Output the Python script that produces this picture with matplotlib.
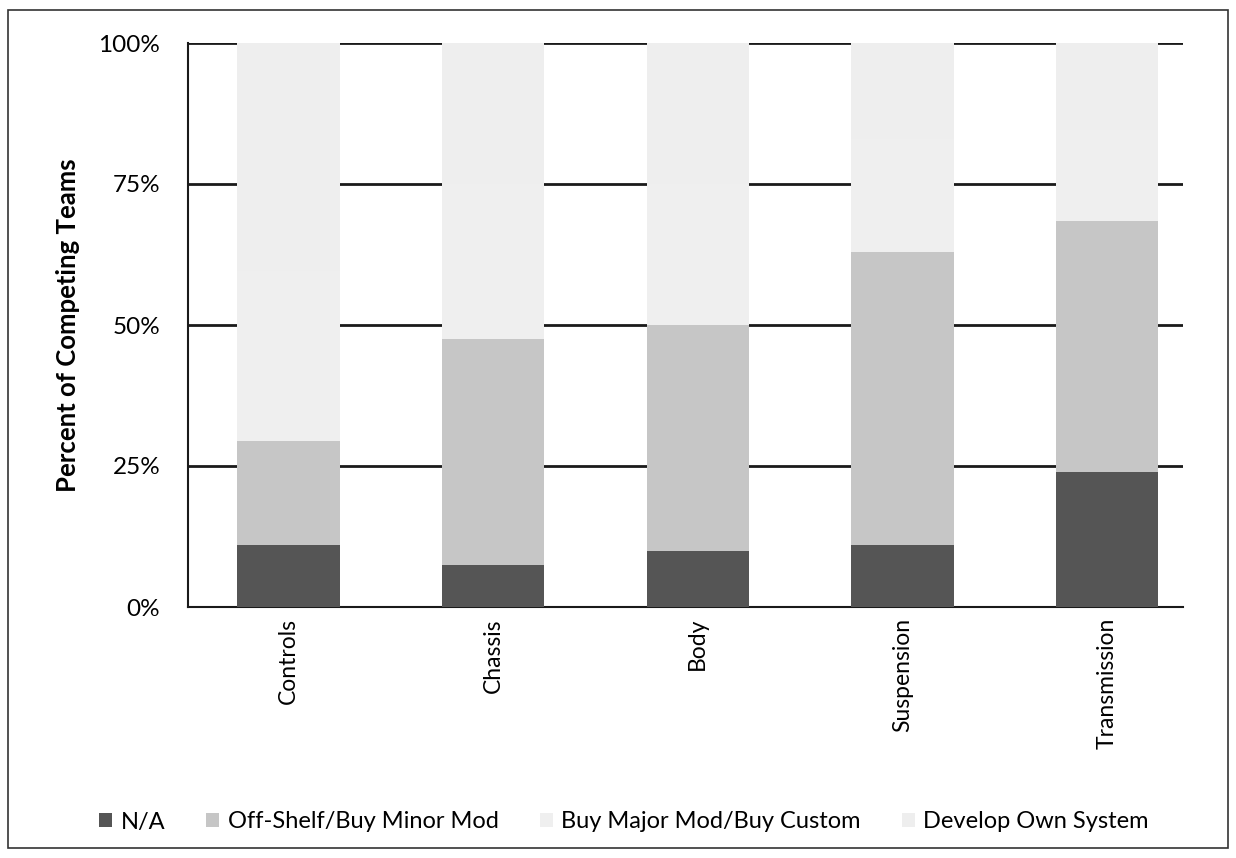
import numpy as np
import matplotlib
matplotlib.use('Agg')
import matplotlib.pyplot as plt
from matplotlib.patches import Rectangle, Patch

plt.rcParams['font.family'] = ['Lato', 'DejaVu Sans']

# Component sourcing by subsystem (percent of teams)
subsystems = ['Controls', 'Chassis', 'Body', 'Suspension', 'Transmission']
na_pct = [11.0, 7.5, 10.0, 11.0, 24.0]
off_shelf_pct = [18.5, 40.0, 40.0, 52.0, 44.5]
buy_major_pct = [30.0, 27.5, 25.0, 20.0, 16.0]
develop_own_pct = [40.5, 25.0, 25.0, 17.0, 15.5]

series = [
    ('N/A', na_pct, '#555555'),
    ('Off-Shelf/Buy Minor Mod', off_shelf_pct, '#c6c6c6'),
    ('Buy Major Mod/Buy Custom', buy_major_pct, '#efefef'),
    ('Develop Own System', develop_own_pct, '#eeeeee'),
]

W, H = 1236, 858
fig = plt.figure(figsize=(W / 100, H / 100), dpi=100)
ax = fig.add_axes([188 / W, 1 - 607 / H, (1183 - 188) / W, (607 - 43) / H])

x = np.arange(len(subsystems))
bottom = np.zeros(len(subsystems))
for name, vals, col in series:
    vals = np.array(vals)
    ax.bar(x, vals, width=0.5, bottom=bottom, color=col, edgecolor='none',
           zorder=3, label=name)
    bottom += vals

ax.set_ylim(0, 100)
ax.set_xlim(-0.49, 4.37)
ax.set_yticks([0, 25, 50, 75, 100])
ax.set_yticklabels(['0%', '25%', '50%', '75%', '100%'], fontsize=17.5)
ax.set_xticks(x)
ax.set_xticklabels(subsystems, rotation=90, fontsize=16.5)
ax.tick_params(axis='y', length=0, pad=20)
ax.tick_params(axis='x', length=0, pad=8)

ax.yaxis.grid(True, color='#1a1a1a', linewidth=2, zorder=1)
for s in ['top', 'right']:
    ax.spines[s].set_visible(False)
for s in ['left', 'bottom']:
    ax.spines[s].set_linewidth(1.5)
    ax.spines[s].set_color('#1a1a1a')

fig.text(68 / W, 1 - 325 / H, 'Percent of Competing Teams', rotation=90,
         ha='center', va='center', fontsize=18.5, fontweight='bold')

handles = [Patch(facecolor=col, edgecolor='none') for _, _, col in series]
fig.legend(handles, [s[0] for s in series], loc='center',
           bbox_to_anchor=(624 / W, 1 - 822 / H), ncol=4, frameon=False,
           fontsize=17, handlelength=0.55, handleheight=0.55,
           handletextpad=0.35, columnspacing=1.75)

# outer chart border
fig.patches.append(Rectangle((8 / W, 10 / H), 1220 / W, 838 / H,
                             transform=fig.transFigure, fill=False,
                             edgecolor='#333333', linewidth=1.2))

fig.savefig('out.png', dpi=100)
